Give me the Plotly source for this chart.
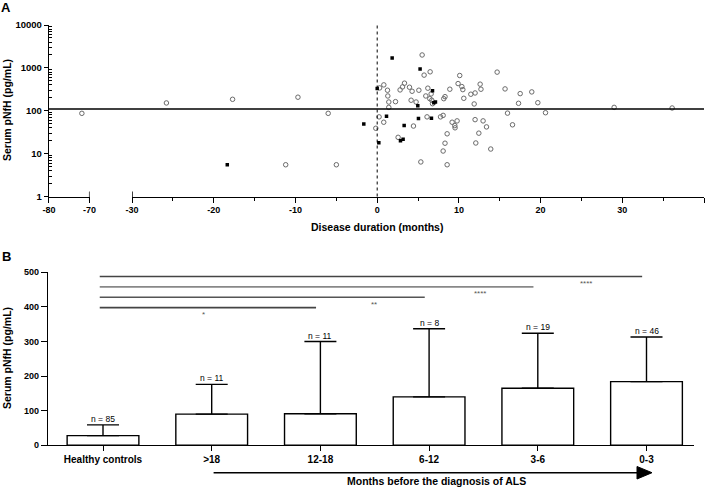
import plotly.graph_objects as go

W, H = 709, 487
def px(x):
    return x / W
def py(y):
    return 1 - y / H

# ---------------- Panel A data ----------------
open_months = [-71.9, -25.8, -17.7, -9.7, -6.0, -11.2, -5.0,
               3.34, 3.1, 2.8, 3.95, 4.27, 5.1, 0.81, 0.3, 1.26, 1.3, 1.42, 2.24, 1.42,
               0.23, 0.8, -0.17, 4.44, 2.56, 5.5, 6.48, 5.74, 10.1, 9.9, 10.36, 10.48,
               8.89, 6.2, 6.6, 5.95, 6.44, 6.68, 6.77, 8.3, 8.15, 11.46, 10.6, 11.87,
               4.15, 4.76, 6.1, 7.75, 8.07, 9.17, 9.78, 9.5, 9.53, 8.56, 8.3, 8.07,
               5.34, 8.56, 14.68, 12.6, 12.7, 11.98, 15.65, 17.5, 17.3, 15.95, 11.98,
               12.96, 13.38, 16.56, 12.44, 12.07, 13.9, 18.92, 19.66, 20.6, 29.0, 36.1]
open_values = [87, 152, 185, 207, 87, 5.5, 5.5,
               440, 360, 306, 354, 285, 301, 401, 341, 301, 221, 160, 163, 120,
               72, 54, 39, 44, 24, 2000, 809, 678, 664, 430, 366, 311,
               318, 336, 247, 221, 191, 176, 146, 213, 191, 243, 195, 144,
               176, 160, 72, 72, 78, 54, 58, 45, 40, 29, 17.5, 11.5,
               6.4, 5.5, 796, 417, 318, 260, 323, 251, 149, 88, 62,
               58, 42, 47, 30, 17.7, 12.8, 275, 154, 90, 120, 116]
filled_months = [1.83, 0.0, 4.97, 1.14, -1.64, 3.3, 5.05, 0.2, 2.85, 3.17,
                 5.25, 6.77, 6.93, 7.13, 6.64, -18.35]
filled_values = [1700, 331, 131, 74, 49, 45, 66, 18, 20, 21.7,
                 937, 294, 154, 160, 67, 5.5]
cutoff = 110

x_ticks_left = [-80, -70]
x_ticks_main = [-30, -20, -10, 0, 10, 20, 30, 40]
y_ticks_a = [1, 10, 100, 1000, 10000]
y_minor_a = [m * d for d in [1, 10, 100, 1000] for m in range(2, 10)]

# ---------------- Panel B data ----------------
categories = ["Healthy controls", ">18", "12-18", "6-12", "3-6", "0-3"]
bar_means = [28, 90, 91, 140, 165, 184]
bar_upper = [59, 176, 300, 337, 324, 313]
n_labels = ["n = 85", "n = 11", "n = 11", "n = 8", "n = 19", "n = 46"]
sig_end_cat = [2, 3, 4, 5]
sig_heights = [398, 428, 458, 488]
sig_text = ["*", "**", "****", "****"]
sig_text_x = [0.925, 2.49, 3.47, 4.44]
sig_text_y = [385, 413, 445, 474]
y_ticks_b = [0, 100, 200, 300, 400, 500]

FAM = "Liberation Sans, Arial"
bold = dict(family=FAM, size=9, color="black", weight="bold")
boldy = dict(family=FAM, size=9.5, color="black", weight="bold")
narrow = dict(family=FAM, size=8.5, color="black")

fig = go.Figure()

left_open = [(m, v) for m, v in zip(open_months, open_values) if m < -50]
main_open = [(m, v) for m, v in zip(open_months, open_values) if m >= -50]
open_marker = dict(symbol="circle-open", size=4.5, color="#6a6a6a", line=dict(width=1))
fig.add_trace(go.Scatter(x=[p[0] for p in left_open], y=[p[1] for p in left_open],
                         mode="markers", xaxis="x", yaxis="y", marker=open_marker,
                         showlegend=False))
fig.add_trace(go.Scatter(x=[p[0] for p in main_open], y=[p[1] for p in main_open],
                         mode="markers", xaxis="x2", yaxis="y", marker=open_marker,
                         showlegend=False))
fig.add_trace(go.Scatter(x=filled_months, y=filled_values,
                         mode="markers", xaxis="x2", yaxis="y",
                         marker=dict(symbol="square", size=3.5, color="black"),
                         showlegend=False))

fig.add_trace(go.Bar(x=list(range(len(categories))), y=bar_means, width=0.66,
                     xaxis="x3", yaxis="y3",
                     marker=dict(color="white", line=dict(color="black", width=1.4)),
                     error_y=dict(type="data", symmetric=False,
                                  array=[u - m for u, m in zip(bar_upper, bar_means)],
                                  arrayminus=[0] * len(bar_means),
                                  color="black", thickness=1.4, width=16),
                     showlegend=False))

axis_common = dict(showline=True, linecolor="black", linewidth=1.3, showgrid=False,
                   zeroline=False, ticks="outside", tickcolor="black", tickwidth=1.3)

fig.update_layout(
    width=W, height=H,
    margin=dict(l=0, r=0, t=0, b=0, autoexpand=False),
    paper_bgcolor="white", plot_bgcolor="white",
    xaxis=dict(domain=[px(48.9), px(89.6)], range=[-80, -70], anchor="y",
               tickvals=x_ticks_left, ticktext=[str(v) for v in x_ticks_left],
               ticklen=5, tickfont=bold, **axis_common),
    xaxis2=dict(domain=[px(132.1), px(704)], range=[-30, 40], anchor="y",
                tickvals=x_ticks_main, ticktext=[str(v) for v in x_ticks_main],
                ticklen=5, tickfont=bold,
                minor=dict(dtick=5, tick0=0, ticks="outside", ticklen=3, tickcolor="black", tickwidth=1.2),
                **axis_common),
    yaxis=dict(domain=[py(196.5), py(25)], type="log", range=[0, 4], anchor="x",
               tickvals=y_ticks_a, ticktext=[str(v) for v in y_ticks_a], ticklen=4,
               tickfont=boldy,
               minor=dict(tickmode="array", tickvals=y_minor_a, ticks="inside", ticklen=3,
                          tickcolor="black", tickwidth=1),
               **axis_common),
    xaxis3=dict(domain=[px(48), px(694)], range=[-0.506, 5.437], anchor="y3",
                tickvals=list(range(len(categories))), ticktext=categories,
                ticklen=5, tickfont=dict(family=FAM, size=10, color="black", weight="bold"),
                **axis_common),
    yaxis3=dict(domain=[py(445.3), py(272.3)], range=[0, 500], anchor="x3",
                tickvals=y_ticks_b, ticktext=[str(v) for v in y_ticks_b],
                ticklen=6, tickfont=bold, **axis_common),
)

shapes = []
shapes.append(dict(type="line", xref="paper", yref="y", x0=px(48.9), x1=px(704),
                   y0=cutoff, y1=cutoff, line=dict(color="black", width=1.5)))
shapes.append(dict(type="line", xref="x2", yref="y domain", x0=0, x1=0, y0=0, y1=1,
                   line=dict(color="black", width=1, dash="dot")))
for xr, xv in [("x", -70), ("x2", -30)]:
    shapes.append(dict(type="line", xref=xr, yref="paper", x0=xv, x1=xv,
                       y0=py(201.5), y1=py(191.5), line=dict(color="black", width=1.3)))
sig_colors = ["#444444", "#555555", "#888888", "#444444"]
for k, h, c in zip(sig_end_cat, sig_heights, sig_colors):
    shapes.append(dict(type="line", xref="x3", yref="y3", x0=-0.03, x1=k - 0.04,
                       y0=h, y1=h, line=dict(color=c, width=1.6)))
shapes.append(dict(type="line", xref="paper", yref="paper", x0=px(213.6), x1=px(638),
                   y0=py(472.7), y1=py(472.7), line=dict(color="black", width=1.5)))
shapes.append(dict(type="path", xref="paper", yref="paper",
                   path=f"M {px(637)} {py(466.5)} L {px(652)} {py(472.7)} L {px(637)} {py(479)} Z",
                   fillcolor="black", line=dict(color="black", width=1)))
fig.update_layout(shapes=shapes)

title_font = dict(family=FAM, size=10.5, color="black")
C = dict(xanchor="center", yanchor="middle", showarrow=False)
ann = []
ann.append(dict(text="<b>A</b>", xref="paper", yref="paper", x=px(6), y=py(7),
                font=dict(family=FAM, size=13, color="black"), **C))
ann.append(dict(text="<b>B</b>", xref="paper", yref="paper", x=px(6), y=py(256),
                font=dict(family=FAM, size=13, color="black"), **C))
ann.append(dict(text="<b>Serum pNfH (pg/mL)</b>", xref="paper", yref="paper", x=px(7), y=py(110),
                textangle=-90, font=title_font, **C))
ann.append(dict(text="<b>Serum pNfH (pg/mL)</b>", xref="paper", yref="paper", x=px(7), y=py(358),
                textangle=-90, font=title_font, **C))
ann.append(dict(text="<b>Disease duration (months)</b>", xref="paper", yref="paper", x=px(377), y=py(227),
                font=title_font, **C))
ann.append(dict(text="<b>Months before the diagnosis of ALS</b>", xref="paper", yref="paper", x=px(436), y=py(481),
                font=title_font, **C))
for i, (t, u) in enumerate(zip(n_labels, bar_upper)):
    ann.append(dict(text=t, xref="x3", yref="y3", x=i, y=u, xanchor="center", yanchor="bottom", yshift=-1,
                    showarrow=False, font=narrow))
for t, xv, yv in zip(sig_text, sig_text_x, sig_text_y):
    ann.append(dict(text=t, xref="x3", yref="y3", x=xv, y=yv, yshift=-2,
                    font=dict(family=FAM, size=8, color="#555555"), **C))
fig.update_layout(annotations=ann)

fig.write_html("out.html", config={"displayModeBar": False},
               post_script="document.body.style.margin='0';document.body.style.padding='0';")
